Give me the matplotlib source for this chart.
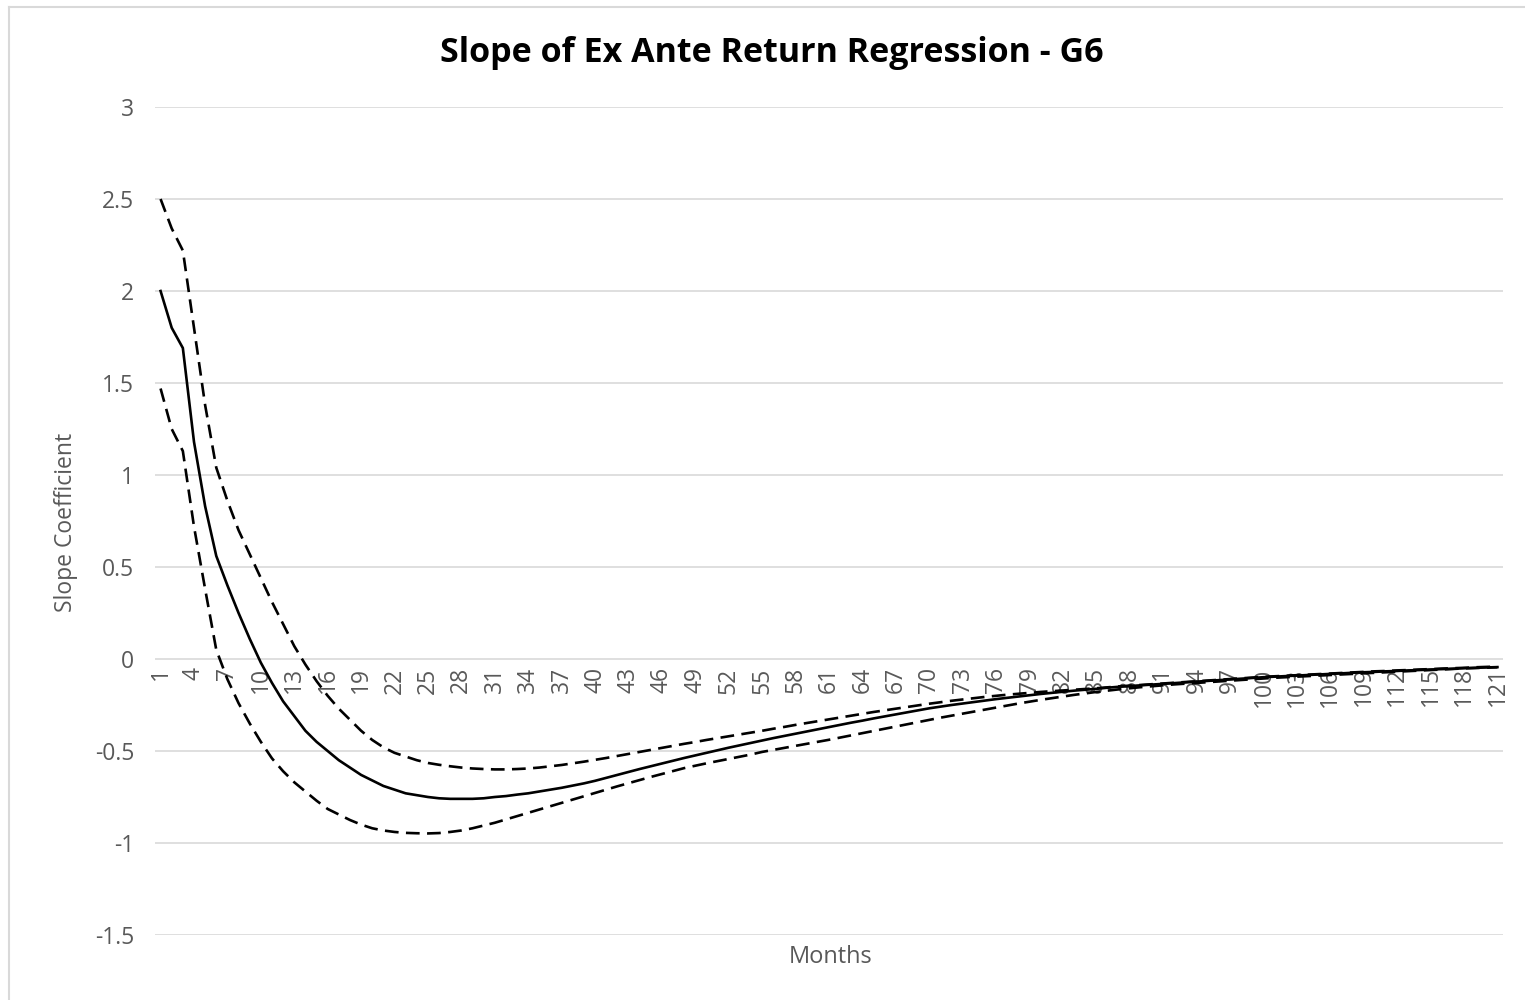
import matplotlib
matplotlib.use("Agg")
import matplotlib.pyplot as plt
from matplotlib.lines import Line2D

plt.rcParams['font.family'] = ['Open Sans', 'DejaVu Sans']

months = list(range(1, 122))

# point estimate of the slope
slope = [
    2.00, 1.80, 1.69, 1.18, 0.83, 0.56, 0.40, 0.25, 0.11, -0.02,
    -0.13, -0.23, -0.31, -0.39, -0.45, -0.50, -0.55, -0.59, -0.63, -0.66,
    -0.69, -0.71, -0.73, -0.74, -0.75, -0.757, -0.76, -0.76, -0.76, -0.757,
    -0.75, -0.745, -0.737, -0.73, -0.72, -0.71, -0.70, -0.688, -0.676, -0.662,
    -0.646, -0.630, -0.614, -0.598, -0.583, -0.568, -0.553, -0.538, -0.524, -0.510,
    -0.496, -0.482, -0.469, -0.456, -0.443, -0.430, -0.418, -0.406, -0.394, -0.382,
    -0.370, -0.358, -0.346, -0.335, -0.323, -0.312, -0.301, -0.290, -0.279, -0.268,
    -0.259, -0.250, -0.242, -0.234, -0.226, -0.218, -0.211, -0.204, -0.197, -0.190,
    -0.184, -0.178, -0.172, -0.167, -0.162, -0.156, -0.151, -0.147, -0.143, -0.139,
    -0.135, -0.131, -0.127, -0.123, -0.119, -0.115, -0.111, -0.107, -0.103, -0.099,
    -0.096, -0.093, -0.090, -0.087, -0.084, -0.081, -0.078, -0.075, -0.072, -0.070,
    -0.067, -0.065, -0.062, -0.060, -0.057, -0.055, -0.053, -0.050, -0.048, -0.046,
    -0.044,
]

# upper band
upper = [
    2.50, 2.34, 2.22, 1.80, 1.38, 1.04, 0.86, 0.70, 0.57, 0.44,
    0.31, 0.19, 0.07, -0.03, -0.12, -0.20, -0.27, -0.33, -0.39, -0.44,
    -0.48, -0.51, -0.53, -0.55, -0.565, -0.575, -0.583, -0.59, -0.595, -0.598,
    -0.60, -0.60, -0.598, -0.595, -0.59, -0.583, -0.576, -0.567, -0.558, -0.548,
    -0.538, -0.527, -0.516, -0.505, -0.494, -0.483, -0.472, -0.461, -0.451, -0.440,
    -0.430, -0.420, -0.410, -0.400, -0.390, -0.379, -0.369, -0.358, -0.348, -0.338,
    -0.328, -0.318, -0.308, -0.298, -0.288, -0.279, -0.270, -0.261, -0.252, -0.243,
    -0.235, -0.227, -0.220, -0.213, -0.206, -0.200, -0.194, -0.189, -0.184, -0.179,
    -0.175, -0.171, -0.167, -0.163, -0.159, -0.154, -0.149, -0.145, -0.141, -0.137,
    -0.133, -0.129, -0.125, -0.121, -0.117, -0.113, -0.109, -0.105, -0.101, -0.097,
    -0.094, -0.091, -0.088, -0.085, -0.082, -0.079, -0.076, -0.073, -0.070, -0.067,
    -0.065, -0.062, -0.060, -0.057, -0.055, -0.052, -0.050, -0.048, -0.045, -0.043,
    -0.041,
]

# lower band
lower = [
    1.47, 1.25, 1.13, 0.72, 0.38, 0.05, -0.11, -0.24, -0.35, -0.45,
    -0.54, -0.61, -0.67, -0.72, -0.77, -0.815, -0.845, -0.875, -0.90, -0.92,
    -0.932, -0.94, -0.945, -0.947, -0.948, -0.946, -0.94, -0.932, -0.92, -0.905,
    -0.89, -0.872, -0.854, -0.836, -0.818, -0.80, -0.782, -0.764, -0.746, -0.728,
    -0.71, -0.692, -0.675, -0.658, -0.641, -0.625, -0.609, -0.593, -0.58, -0.567,
    -0.555, -0.543, -0.531, -0.519, -0.505, -0.494, -0.483, -0.472, -0.461, -0.450,
    -0.439, -0.427, -0.415, -0.403, -0.391, -0.379, -0.367, -0.355, -0.343, -0.331,
    -0.319, -0.308, -0.297, -0.286, -0.275, -0.264, -0.253, -0.242, -0.232, -0.222,
    -0.213, -0.204, -0.195, -0.187, -0.179, -0.172, -0.165, -0.159, -0.153, -0.148,
    -0.143, -0.138, -0.134, -0.130, -0.126, -0.122, -0.118, -0.114, -0.110, -0.106,
    -0.102, -0.099, -0.096, -0.093, -0.090, -0.087, -0.084, -0.081, -0.078, -0.075,
    -0.072, -0.069, -0.066, -0.063, -0.060, -0.057, -0.054, -0.051, -0.049, -0.047,
    -0.045,
]

xticks = months[::3]
yticks = [-1.5, -1, -0.5, 0, 0.5, 1, 1.5, 2, 2.5, 3]
ytick_labels = ['-1.5', '-1', '-0.5', '0', '0.5', '1', '1.5', '2', '2.5', '3']

W, H = 1525, 1000
fig = plt.figure(figsize=(W / 100, H / 100), dpi=100)
ax = fig.add_axes([155 / W, 1 - 935 / H, (1503 - 155) / W, (935 - 107) / H])

# x tick labels sit just under the zero line, like the Excel category axis
for s in ax.spines.values():
    s.set_visible(False)
ax.spines['bottom'].set_position(('data', 0))

gray = '#595959'
dash = (0, (5.2, 2.8))
ax.plot(months, upper, color='black', lw=1.9, linestyle=dash, zorder=2)
ax.plot(months, lower, color='black', lw=1.9, linestyle=dash, zorder=2)
ax.plot(months, slope, color='black', lw=1.9, zorder=3)

ax.set_xlim(0.5, 121.5)
ax.set_ylim(-1.5, 3)
ax.set_yticks(yticks)
ax.set_yticklabels(ytick_labels)
ax.set_xticks(xticks)
ax.set_xticklabels([str(m) for m in xticks])
ax.tick_params(axis='both', length=0, colors=gray, labelsize=16.5)
ax.tick_params(axis='y', pad=15)
ax.tick_params(axis='x', pad=6, labelrotation=90)
ax.grid(axis='y', color='#d9d9d9', lw=1.2)
ax.set_axisbelow(True)

fig.text(772 / W, 1 - 53 / H, 'Slope of Ex Ante Return Regression - G6',
         ha='center', va='center', fontsize=24.5, fontweight='bold', color='black')
fig.text(66 / W, 1 - 522 / H, 'Slope Coefficient', rotation=90,
         ha='center', va='center', fontsize=16.5, color=gray)
fig.text(831 / W, 1 - 957 / H, 'Months', ha='center', va='center',
         fontsize=17, color=gray)

# chart border (top and left edges visible)
fig.add_artist(Line2D([9 / W, 1.0], [1 - 7 / H, 1 - 7 / H], color='#d9d9d9', lw=1.5))
fig.add_artist(Line2D([9 / W, 9 / W], [0.0, 1 - 7 / H], color='#d9d9d9', lw=1.5))

fig.savefig('out.png', dpi=100)
